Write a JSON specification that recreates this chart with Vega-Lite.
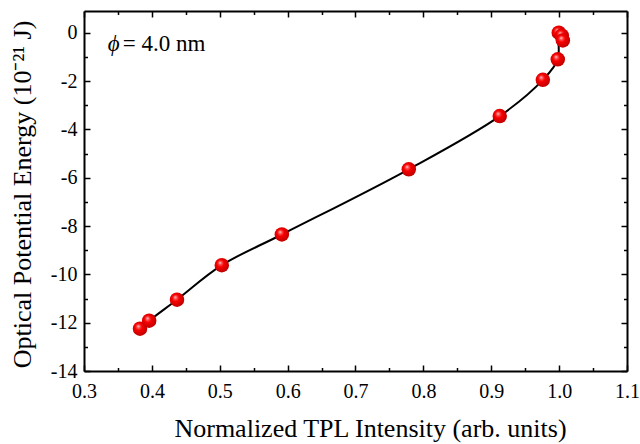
{
  "$schema": "https://vega.github.io/schema/vega-lite/v6.json",
  "width": 543,
  "height": 360,
  "autosize": {"type": "none"},
  "padding": {"left": 84, "top": 11, "right": 13, "bottom": 73},
  "background": "white",
  "config": {
    "view": {"stroke": null},
    "font": "Liberation Serif",
    "axis": {
      "grid": false,
      "domainColor": "black",
      "domainWidth": 2,
      "tickColor": "black",
      "tickWidth": 1.5,
      "labelFont": "Liberation Serif",
      "labelFontSize": 20,
      "labelColor": "black",
      "titleFont": "Liberation Serif",
      "titleFontSize": 26,
      "titleFontWeight": "normal",
      "titleColor": "black"
    }
  },
  "resolve": {"axis": {"x": "independent", "y": "independent"}},
  "layer": [
    {
      "data": {
        "values": [
          {"x": 0.3825, "y": -12.25},
          {"x": 0.396, "y": -11.92},
          {"x": 0.437, "y": -11.05},
          {"x": 0.503, "y": -9.62},
          {"x": 0.5915, "y": -8.35},
          {"x": 0.7785, "y": -5.65},
          {"x": 0.9125, "y": -3.45},
          {"x": 0.976, "y": -1.95},
          {"x": 0.998, "y": -1.1},
          {"x": 0.9995, "y": 0.0},
          {"x": 1.004, "y": -0.12},
          {"x": 1.0055, "y": -0.32}
        ]
      },
      "layer": [
        {
          "mark": {"type": "line", "color": "black", "strokeWidth": 2, "interpolate": "catmull-rom"},
          "encoding": {
            "x": {
              "field": "x", "type": "quantitative",
              "scale": {"domain": [0.3, 1.1], "nice": false, "zero": false},
              "axis": {
                "orient": "bottom",
                "title": "Normalized TPL Intensity (arb. units)",
                "values": [0.3, 0.35, 0.4, 0.45, 0.5, 0.55, 0.6, 0.65, 0.7, 0.75, 0.8, 0.85, 0.9, 0.95, 1.0, 1.05, 1.1],
                "labelExpr": "abs(datum.value*10 - round(datum.value*10)) < 0.001 ? format(datum.value, '.1f') : ''",
                "tickSize": {"condition": {"test": "abs(datum.value*10 - round(datum.value*10)) < 0.001", "value": -6}, "value": -3.5},
                "labelPadding": 16,
                "labelFlush": false,
                "labelOverlap": false,
                "titleX": 286,
                "titleY": 57,
                "titleBaseline": "middle",
                "titleAlign": "center"
              }
            },
            "y": {
              "field": "y", "type": "quantitative",
              "scale": {"domain": [-14, 0.9], "nice": false, "zero": false},
              "axis": {
                "orient": "left",
                "title": "Optical Potential Energy (10⁻²¹ J)",
                "values": [-14, -13, -12, -11, -10, -9, -8, -7, -6, -5, -4, -3, -2, -1, 0],
                "labelExpr": "datum.value % 2 == 0 ? '' + datum.value : ''",
                "tickSize": {"condition": {"test": "datum.value % 2 == 0", "value": -6}, "value": -3.5},
                "labelPadding": 13,
                "labelFlush": false,
                "labelOverlap": false,
                "titleX": -62,
                "titleY": 183,
                "titleAngle": -90,
                "titleBaseline": "middle",
                "titleAlign": "center"
              }
            }
          }
        },
        {
          "mark": {
            "type": "point", "filled": true, "shape": "circle", "size": 210, "opacity": 1,
            "fill": {
              "gradient": "radial",
              "x1": 0.38, "y1": 0.33, "r1": 0,
              "x2": 0.45, "y2": 0.45, "r2": 0.6,
              "stops": [
                {"offset": 0, "color": "#fff0f0"},
                {"offset": 0.15, "color": "#ff6060"},
                {"offset": 0.4, "color": "#f80000"},
                {"offset": 1, "color": "#b80000"}
              ]
            }
          },
          "encoding": {
            "x": {
              "field": "x", "type": "quantitative",
              "scale": {"domain": [0.3, 1.1], "nice": false, "zero": false},
              "axis": {
                "orient": "top",
                "title": null,
                "values": [0.3, 0.35, 0.4, 0.45, 0.5, 0.55, 0.6, 0.65, 0.7, 0.75, 0.8, 0.85, 0.9, 0.95, 1.0, 1.05, 1.1],
                "labels": false,
                "tickSize": {"condition": {"test": "abs(datum.value*10 - round(datum.value*10)) < 0.001", "value": -6}, "value": -3.5}
              }
            },
            "y": {
              "field": "y", "type": "quantitative",
              "scale": {"domain": [-14, 0.9], "nice": false, "zero": false},
              "axis": {
                "orient": "right",
                "title": null,
                "values": [-14, -13, -12, -11, -10, -9, -8, -7, -6, -5, -4, -3, -2, -1, 0],
                "labels": false,
                "tickSize": {"condition": {"test": "datum.value % 2 == 0", "value": -6}, "value": -3.5}
              }
            }
          }
        }
      ]
    },
    {
      "data": {"values": [{"label": "ϕ"}]},
      "mark": {"type": "text", "fontStyle": "italic", "fontSize": 23, "align": "left", "baseline": "middle", "color": "black", "font": "Liberation Serif"},
      "encoding": {
        "text": {"field": "label"},
        "x": {"datum": 0.335, "type": "quantitative", "axis": null},
        "y": {"datum": -0.45, "type": "quantitative", "axis": null}
      }
    },
    {
      "data": {"values": [{"label": "= 4.0 nm"}]},
      "mark": {"type": "text", "fontSize": 23, "align": "left", "baseline": "middle", "color": "black", "font": "Liberation Serif", "dx": 15},
      "encoding": {
        "text": {"field": "label"},
        "x": {"datum": 0.335, "type": "quantitative", "axis": null},
        "y": {"datum": -0.45, "type": "quantitative", "axis": null}
      }
    }
  ]
}
